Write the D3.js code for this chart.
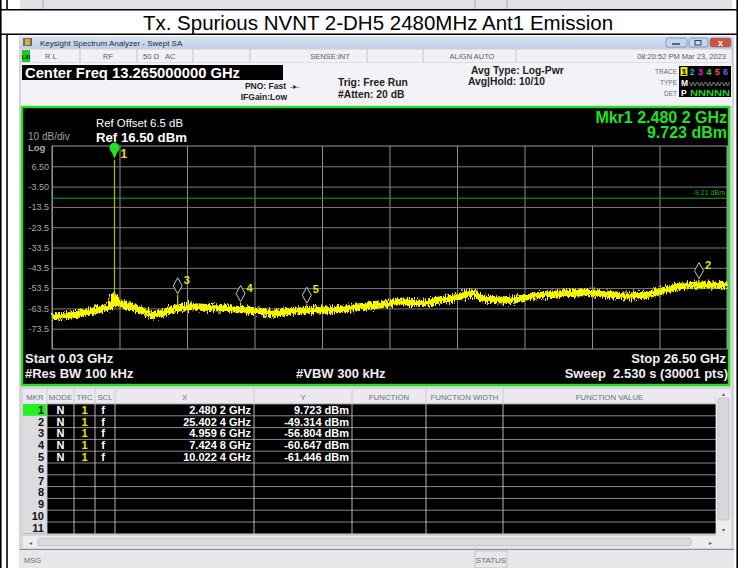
<!DOCTYPE html>
<html>
<head>
<meta charset="utf-8">
<script src="https://cdn.jsdelivr.net/npm/d3@7"></script>
<style>
  body { margin: 0; background: #fff; }
  svg { display: block; font-family: "Liberation Sans", Arial, sans-serif; }
</style>
</head>
<body>
<div id="chart"></div>
<script>
var title = 'Tx. Spurious NVNT 2-DH5 2480MHz Ant1 Emission';

// trace level (centre of the yellow band)
var trace_ghz = [0.03, 0.8, 1.4, 1.91, 2.38, 2.48, 2.56, 2.89, 3.3, 3.67, 4.06, 4.65, 5.43, 6.0, 6.61, 7.59,
                 8.2, 8.76, 9.2, 9.74, 10.52, 11.31, 12.09, 12.87, 13.66, 14.44, 15.22, 16.01, 16.48, 16.98,
                 17.96, 18.75, 19.53, 20.31, 21.10, 21.88, 22.66, 23.25, 23.84, 24.62, 25.40, 25.99, 26.5];
var trace_dbm = [-67.6, -66.8, -65.5, -63.8, -62.3, -57.5, -60.5, -61.8, -63.2, -65.0, -66.7, -64.3, -62.7, -62.9, -63.3, -64.3,
                 -65.0, -65.9, -65.2, -64.6, -64.3, -64.0, -62.7, -61.8, -60.2, -61.0, -59.4, -57.7, -55.8, -59.0,
                 -59.4, -57.7, -56.6, -56.2, -55.8, -56.6, -57.4, -57.0, -55.3, -52.8, -52.0, -52.0, -52.5];

var mkr_num    = [1, 2, 3, 4, 5];
var mkr_ghz    = [2.4802, 25.4024, 4.9596, 7.4248, 10.0224];
var mkr_dbm    = [9.723, -49.314, -56.804, -60.647, -61.446];
var mkr_x_text = ['2.480 2 GHz', '25.402 4 GHz', '4.959 6 GHz', '7.424 8 GHz', '10.022 4 GHz'];
var mkr_y_text = ['9.723 dBm', '-49.314 dBm', '-56.804 dBm', '-60.647 dBm', '-61.446 dBm'];

var y_ticks       = [6.5, -3.5, -13.5, -23.5, -33.5, -43.5, -53.5, -63.5, -73.5];
var y_tick_labels = ['6.50', '-3.50', '-13.5', '-23.5', '-33.5', '-43.5', '-53.5', '-63.5', '-73.5'];

var start_ghz = 0.03;
var stop_ghz = 26.5;
var ref_dbm = 16.5;
var display_line = -9.21;

var table_head = ['MKR', 'MODE', 'TRC', 'SCL', 'X', 'Y', 'FUNCTION', 'FUNCTION WIDTH', 'FUNCTION VALUE'];
var col_edges = [23, 47, 74, 95, 115, 254, 352, 426, 503, 716];

var chart_width = 738;
var chart_height = 568;

var svg = d3.select('#chart')
          .append('svg')
          .attr('width', chart_width)
          .attr('height', chart_height);

var defs = svg.append('defs');
var tb = defs.append('linearGradient').attr('id', 'tbar').attr('x1', 0).attr('y1', 0).attr('x2', 0).attr('y2', 1);
tb.append('stop').attr('offset', 0).attr('stop-color', '#dbe6f4');
tb.append('stop').attr('offset', 1).attr('stop-color', '#bccfe8');
var noise = defs.append('filter').attr('id', 'noise')
  .attr('x', '-2%').attr('y', '-40%').attr('width', '104%').attr('height', '180%');
noise.append('feTurbulence').attr('type', 'fractalNoise').attr('baseFrequency', '0.95 0.25')
  .attr('numOctaves', 2).attr('seed', 4).attr('result', 't');
noise.append('feDisplacementMap').attr('in', 'SourceGraphic').attr('in2', 't')
  .attr('scale', 10).attr('xChannelSelector', 'R').attr('yChannelSelector', 'G');

// ---- page table remnants ----
svg.append('rect').attr('x', 20).attr('y', 0).attr('width', 712).attr('height', 9).attr('fill', '#e2e0e6');
[43, 475, 507].forEach(function(x){
  svg.append('line').attr('x1', x).attr('x2', x).attr('y1', 0).attr('y2', 9).attr('stroke', '#a8a8ae');
});
svg.append('g').attr('stroke', '#000').attr('stroke-width', 1.6)
  .selectAll('line')
  .data([[0.8, 0, 0.8, 568], [737.2, 0, 737.2, 568], [0, 9.8, 738, 9.8], [0, 34.2, 738, 34.2],
         [7, 0, 7, 10], [7, 34, 7, 568]])
  .enter()
  .append('line')
  .attr('x1', function(d){ return d[0]; })
  .attr('y1', function(d){ return d[1]; })
  .attr('x2', function(d){ return d[2]; })
  .attr('y2', function(d){ return d[3]; });

svg.append('text')
  .text(title)
  .attr('x', 378).attr('y', 29.5)
  .attr('text-anchor', 'middle')
  .attr('font-size', 20.5)
  .attr('fill', '#000');

// ---- analyzer window ----
svg.append('rect').attr('x', 19).attr('y', 36).attr('width', 715).attr('height', 532).attr('fill', '#d6d6da');
svg.append('rect').attr('x', 19).attr('y', 36).attr('width', 715).attr('height', 12).attr('fill', 'url(#tbar)');
svg.append('rect').attr('x', 23).attr('y', 38).attr('width', 9).attr('height', 8).attr('fill', '#7a6a3a');
svg.append('rect').attr('x', 25).attr('y', 39).attr('width', 5).attr('height', 6).attr('fill', '#c8b060');
svg.append('text').text('Keysight Spectrum Analyzer - Swept SA')
  .attr('x', 40).attr('y', 45.5).attr('font-size', 8).attr('fill', '#1e2a40');

[[666, 21, '#c4d6ee'], [689, 19, '#c4d6ee'], [710, 21, '#d2503c']].forEach(function(b){
  svg.append('rect').attr('x', b[0]).attr('y', 38).attr('width', b[1]).attr('height', 9)
    .attr('rx', 2).attr('fill', b[2]).attr('stroke', '#6b7f9c').attr('stroke-width', 0.7);
});
svg.append('line').attr('x1', 672).attr('x2', 680).attr('y1', 44).attr('y2', 44).attr('stroke', '#34404f').attr('stroke-width', 1.5);
svg.append('rect').attr('x', 695).attr('y', 40.5).attr('width', 6).attr('height', 4.5).attr('fill', 'none').attr('stroke', '#34404f');
svg.append('text').text('x').attr('x', 720.5).attr('y', 45.5).attr('text-anchor', 'middle')
  .attr('font-size', 9).attr('font-weight', 'bold').attr('fill', '#fff');

// status row
svg.append('rect').attr('x', 21).attr('y', 49).attr('width', 711).attr('height', 14).attr('fill', '#f2f0f4')
  .attr('stroke', '#c4c4ca').attr('stroke-width', 0.8);
svg.append('rect').attr('x', 22).attr('y', 50).attr('width', 8).attr('height', 12).attr('fill', '#1ec81e');
svg.append('text').text('LXI').attr('x', 26).attr('y', 59).attr('text-anchor', 'middle')
  .attr('font-size', 5.5).attr('font-weight', 'bold').attr('fill', '#102010');
[80, 137, 193, 250, 367, 423, 516].forEach(function(x){
  svg.append('line').attr('x1', x).attr('x2', x).attr('y1', 49).attr('y2', 63).attr('stroke', '#c4c4ca');
});
[['R L', 45, 'start'], ['RF', 108, 'middle'], ['50 \u03a9', 143, 'start'], ['AC', 165, 'start'],
 ['SENSE:INT', 330, 'middle'], ['ALIGN AUTO', 472, 'middle'], ['08:20:52 PM Mar 23, 2023', 726, 'end']].forEach(function(t){
  svg.append('text').text(t[0]).attr('x', t[1]).attr('y', 59).attr('text-anchor', t[2])
    .attr('font-size', 7.5).attr('fill', '#5a5a62');
});

// settings area
svg.append('rect').attr('x', 21).attr('y', 63).attr('width', 711).attr('height', 43).attr('fill', '#f3f2f6');
svg.append('rect').attr('x', 22).attr('y', 65).attr('width', 261).attr('height', 15).attr('fill', '#000');
svg.append('text').text('Center Freq 13.265000000 GHz').attr('x', 25).attr('y', 77.5)
  .attr('font-size', 14.5).attr('font-weight', 'bold').attr('fill', '#fff')
  .attr('textLength', 215).attr('lengthAdjust', 'spacingAndGlyphs');

var bold_txt = [['PNO: Fast', 286, 89, 'end', 8.5], ['IFGain:Low', 287, 100, 'end', 8.5],
                ['Trig: Free Run', 338, 86, 'start', 10.3], ['#Atten: 20 dB', 338, 98, 'start', 10.3],
                ['Avg Type: Log-Pwr', 471, 74, 'start', 10.3], ['Avg|Hold: 10/10', 468, 85, 'start', 10.3]];
bold_txt.forEach(function(t){
  svg.append('text').text(t[0]).attr('x', t[1]).attr('y', t[2]).attr('text-anchor', t[3])
    .attr('font-size', t[4]).attr('font-weight', 'bold').attr('fill', '#222');
});
svg.append('text').text('-\u25b8-').attr('x', 290).attr('y', 89).attr('font-size', 8).attr('fill', '#333');

// trace indicator box
svg.append('rect').attr('x', 679).attr('y', 66).attr('width', 52).attr('height', 31).attr('fill', '#000');
[['TRACE', 74], ['TYPE', 85], ['DET', 95.5]].forEach(function(t){
  svg.append('text').text(t[0]).attr('x', 677).attr('y', t[1]).attr('text-anchor', 'end')
    .attr('font-size', 6.5).attr('fill', '#6a6a70');
});
svg.append('rect').attr('x', 680.5).attr('y', 67).attr('width', 7).attr('height', 9).attr('fill', '#e8e800');
['#000', '#00b8c8', '#e020e0', '#20e020', '#ff4a6a', '#6a5aff'].forEach(function(c, i){
  svg.append('text').text(i + 1).attr('x', 684 + i * 8.3).attr('y', 75).attr('text-anchor', 'middle')
    .attr('font-size', 9).attr('font-weight', 'bold').attr('fill', c);
});
svg.append('text').text('M').attr('x', 681).attr('y', 86).attr('font-size', 8.5).attr('font-weight', 'bold').attr('fill', '#fff');
svg.append('text').text('WWWWW').attr('x', 689).attr('y', 85.5).attr('font-size', 6).attr('fill', '#9a9aa0')
  .attr('textLength', 41).attr('lengthAdjust', 'spacingAndGlyphs');
svg.append('text').text('P').attr('x', 681).attr('y', 96).attr('font-size', 8.5).attr('font-weight', 'bold').attr('fill', '#fff');
svg.append('text').text('NNNNN').attr('x', 690).attr('y', 96).attr('font-size', 8.5).attr('font-weight', 'bold').attr('fill', '#20d020')
  .attr('textLength', 40).attr('lengthAdjust', 'spacingAndGlyphs');

// ---- spectrum display ----
svg.append('rect').attr('x', 22).attr('y', 107).attr('width', 707).attr('height', 278)
  .attr('fill', '#000').attr('stroke', '#22e022').attr('stroke-width', 2.4);

var x_scale = d3.scaleLinear()
              .domain([start_ghz, stop_ghz])
              .range([52, 727]);

var y_scale = d3.scaleLinear()
              .domain([ref_dbm - 100, ref_dbm])
              .range([349, 146]);

var x_grid = d3.axisBottom(x_scale)
  .tickValues(d3.range(11).map(function(i){ return start_ghz + i * (stop_ghz - start_ghz) / 10; }))
  .tickSize(-(y_scale(-83.5) - y_scale(ref_dbm)))
  .tickFormat('');
var gx = svg.append('g').attr('transform', 'translate(0,' + y_scale(ref_dbm - 100) + ')').call(x_grid);
gx.select('.domain').remove();
gx.selectAll('line').attr('stroke', '#8c8c8c');

var y_axis = d3.axisLeft(y_scale)
  .tickValues(y_ticks)
  .tickSize(-(x_scale(stop_ghz) - x_scale(start_ghz)))
  .tickPadding(3)
  .tickFormat(function(d, i){ return y_tick_labels[i]; });
var gy = svg.append('g').attr('transform', 'translate(' + x_scale(start_ghz) + ',0)').call(y_axis);
gy.select('.domain').remove();
gy.selectAll('line').attr('stroke', '#7c7c7c');
gy.selectAll('text').attr('fill', '#a8a8a8').attr('font-size', 9)
  .attr('font-family', '"Liberation Sans Narrow", "Liberation Sans", Arial, sans-serif');

svg.append('rect')
  .attr('x', x_scale(start_ghz)).attr('y', y_scale(ref_dbm))
  .attr('width', x_scale(stop_ghz) - x_scale(start_ghz))
  .attr('height', y_scale(ref_dbm - 100) - y_scale(ref_dbm))
  .attr('fill', 'none').attr('stroke', '#9a9a9a');

// display line
svg.append('line')
  .attr('x1', x_scale(start_ghz)).attr('x2', x_scale(stop_ghz))
  .attr('y1', y_scale(display_line)).attr('y2', y_scale(display_line))
  .attr('stroke', '#10b010');
svg.append('text').text(display_line + ' dBm')
  .attr('x', 725).attr('y', y_scale(display_line) - 3).attr('text-anchor', 'end')
  .attr('font-size', 7).attr('fill', '#18b818');

// labels
svg.append('text').text('Ref Offset 6.5 dB').attr('x', 96).attr('y', 127).attr('font-size', 11).attr('fill', '#fff')
  .attr('textLength', 87).attr('lengthAdjust', 'spacingAndGlyphs');
svg.append('text').text('Ref 16.50 dBm').attr('x', 96).attr('y', 141.5).attr('font-size', 13.2)
  .attr('font-weight', 'bold').attr('fill', '#fff');
svg.append('text').text('10 dB/div').attr('x', 28).attr('y', 139.5).attr('font-size', 10).attr('fill', '#a0a0a0');
svg.append('text').text('Log').attr('x', 28).attr('y', 151).attr('font-size', 9.5).attr('font-weight', 'bold').attr('fill', '#a8a8a8');
svg.append('text').text('Mkr1 2.480 2 GHz').attr('x', 727).attr('y', 122.5).attr('text-anchor', 'end')
  .attr('font-size', 16).attr('font-weight', 'bold').attr('fill', '#22e022');
svg.append('text').text(mkr_y_text[0]).attr('x', 727).attr('y', 138).attr('text-anchor', 'end')
  .attr('font-size', 16).attr('font-weight', 'bold').attr('fill', '#22e022');

// trace
var trace = trace_ghz.map(function(f, i){ return { f: f, v: trace_dbm[i] }; });
var line = d3.line()
  .x(function(d){ return x_scale(d.f); })
  .y(function(d){ return y_scale(d.v); })
  .curve(d3.curveMonotoneX);
svg.append('path')
  .datum(trace)
  .attr('d', line)
  .attr('fill', 'none')
  .attr('stroke', '#f8f800')
  .attr('stroke-width', 7)
  .attr('filter', 'url(#noise)');

var level_at = d3.scaleLinear().domain(trace_ghz).range(trace_dbm);
var markers = mkr_num.map(function(n, i){ return { n: n, f: mkr_ghz[i], v: mkr_dbm[i] }; });

// peaks under each marker
svg.selectAll('.spike')
  .data(markers)
  .enter()
  .append('line')
  .attr('class', 'spike')
  .attr('x1', function(d){ return x_scale(d.f); })
  .attr('x2', function(d){ return x_scale(d.f); })
  .attr('y1', function(d){ return y_scale(d.v); })
  .attr('y2', function(d){ return y_scale(level_at(d.f)); })
  .attr('stroke', function(d){ return d.n === 1 ? '#b8b800' : '#d8d800'; })
  .attr('stroke-width', 1.2);

// marker 1: filled pin, others: open diamonds
var m1 = markers[0];
svg.append('path')
  .attr('d', 'M' + (x_scale(m1.f) - 5) + ',' + (y_scale(m1.v) - 13) +
             ' h10 l-5,' + 12 + ' Z')
  .attr('fill', '#22e022');
svg.append('circle').attr('cx', x_scale(m1.f)).attr('cy', y_scale(m1.v) - 12).attr('r', 5).attr('fill', '#22e022');

svg.selectAll('.diamond')
  .data(markers.slice(1))
  .enter()
  .append('path')
  .attr('class', 'diamond')
  .attr('d', function(d){
    var x = x_scale(d.f), y = y_scale(d.v) - 1;
    return 'M' + x + ',' + y + ' l4.5,-8 l-4.5,-8 l-4.5,8 Z';
  })
  .attr('fill', '#000')
  .attr('stroke', '#c8c8c8')
  .attr('stroke-width', 1);

svg.selectAll('.mlabel')
  .data(markers)
  .enter()
  .append('text')
  .attr('class', 'mlabel')
  .text(function(d){ return d.n; })
  .attr('x', function(d){ return x_scale(d.f) + 6; })
  .attr('y', function(d){ return d.n === 1 ? y_scale(d.v) - 2 : y_scale(d.v) - 11; })
  .attr('font-size', function(d){ return d.n === 1 ? 12 : 11; })
  .attr('font-weight', 'bold')
  .attr('fill', '#e8e800');

// bottom annotation
[['Start 0.03 GHz', 25, 362.5, 'start'], ['#Res BW 100 kHz', 25, 377.5, 'start'], ['#VBW 300 kHz', 296, 377.5, 'start'],
 ['Stop 26.50 GHz', 726, 362.5, 'end'], ['Sweep  2.530 s (30001 pts)', 728, 377.5, 'end']].forEach(function(t){
  svg.append('text').text(t[0]).attr('x', t[1]).attr('y', t[2]).attr('text-anchor', t[3])
    .attr('font-size', 13).attr('font-weight', 'bold').attr('fill', '#f0f0f0')
    .style('white-space', 'pre');
});

// ---- marker table ----
var row_h = 11.8;
var row_top = 404;
svg.append('rect').attr('x', 23).attr('y', 389).attr('width', 708).attr('height', 15).attr('fill', '#ebe9ef');
svg.append('rect').attr('x', 23).attr('y', row_top).attr('width', 693).attr('height', row_h * 11).attr('fill', '#000');
svg.append('rect').attr('x', 23).attr('y', row_top).attr('width', 24).attr('height', row_h * 11).attr('fill', '#dcdce0');
svg.append('rect').attr('x', 23).attr('y', row_top).attr('width', 24).attr('height', row_h).attr('fill', '#22f022');

table_head.forEach(function(h, i){
  svg.append('text').text(h)
    .attr('x', (col_edges[i] + col_edges[i + 1]) / 2).attr('y', 399.5)
    .attr('text-anchor', 'middle').attr('font-size', 7.8).attr('fill', '#70707a');
});

d3.range(12).forEach(function(i){
  svg.append('line').attr('x1', 47).attr('x2', 716)
    .attr('y1', row_top + i * row_h).attr('y2', row_top + i * row_h)
    .attr('stroke', '#9a9a9a').attr('stroke-width', 0.9);
});
col_edges.forEach(function(x, i){
  if (i === 0) return;
  svg.append('line').attr('x1', x).attr('x2', x).attr('y1', 389).attr('y2', row_top + 11 * row_h)
    .attr('stroke', '#c8c8cc').attr('stroke-width', 0.9);
});

var rows = svg.selectAll('.row')
  .data(d3.range(11))
  .enter()
  .append('g')
  .attr('class', 'row')
  .attr('transform', function(d){ return 'translate(0,' + (row_top + (d + 1) * row_h - 2) + ')'; })
  .attr('font-size', 11)
  .attr('font-weight', 'bold');

rows.append('text').text(function(d){ return d + 1; })
  .attr('x', 44).attr('text-anchor', 'end').attr('fill', '#111');
var filled = rows.filter(function(d){ return d < mkr_num.length; });
filled.append('text').text('N').attr('x', 60.5).attr('text-anchor', 'middle').attr('fill', '#fff');
filled.append('text').text(function(d){ return 1; }).attr('x', 84.5).attr('text-anchor', 'middle').attr('fill', '#e8e800');
filled.append('text').text('f').attr('x', 103).attr('text-anchor', 'middle').attr('fill', '#fff');
filled.append('text').text(function(d){ return mkr_x_text[d]; }).attr('x', 251).attr('text-anchor', 'end').attr('fill', '#fff');
filled.append('text').text(function(d){ return mkr_y_text[d]; }).attr('x', 349).attr('text-anchor', 'end').attr('fill', '#fff');

// scroll bars
svg.append('rect').attr('x', 716).attr('y', 389).attr('width', 15).attr('height', 147).attr('fill', '#ececee');
svg.append('rect').attr('x', 718).attr('y', 398).attr('width', 11).attr('height', 122).attr('rx', 2)
  .attr('fill', '#d8d8dc').attr('stroke', '#b8b8be').attr('stroke-width', 0.7);
svg.append('rect').attr('x', 23).attr('y', 536).attr('width', 708).attr('height', 12).attr('fill', '#ececee');
svg.append('rect').attr('x', 38).attr('y', 538).attr('width', 653).attr('height', 8).attr('rx', 2)
  .attr('fill', '#dadade').attr('stroke', '#b8b8be').attr('stroke-width', 0.7);
[['\u25b4', 723.5, 396], ['\u25be', 723.5, 532], ['\u25c2', 30, 545], ['\u25b8', 710, 545]].forEach(function(a){
  svg.append('text').text(a[0]).attr('x', a[1]).attr('y', a[2]).attr('text-anchor', 'middle')
    .attr('font-size', 6).attr('fill', '#606066');
});

// message bar
svg.append('rect').attr('x', 19).attr('y', 549).attr('width', 715).attr('height', 19).attr('fill', '#e8e6ea');
svg.append('line').attr('x1', 19).attr('x2', 734).attr('y1', 549.5).attr('y2', 549.5).attr('stroke', '#8a8a90');
svg.append('rect').attr('x', 475).attr('y', 551).attr('width', 32).attr('height', 17).attr('fill', 'none')
  .attr('stroke', '#b8b8be').attr('stroke-width', 0.8);
svg.append('text').text('MSG').attr('x', 24).attr('y', 563).attr('font-size', 7.5).attr('fill', '#6a6a72');
svg.append('text').text('STATUS').attr('x', 491).attr('y', 563).attr('text-anchor', 'middle')
  .attr('font-size', 8).attr('fill', '#6a6a72');
</script>
</body>
</html>
